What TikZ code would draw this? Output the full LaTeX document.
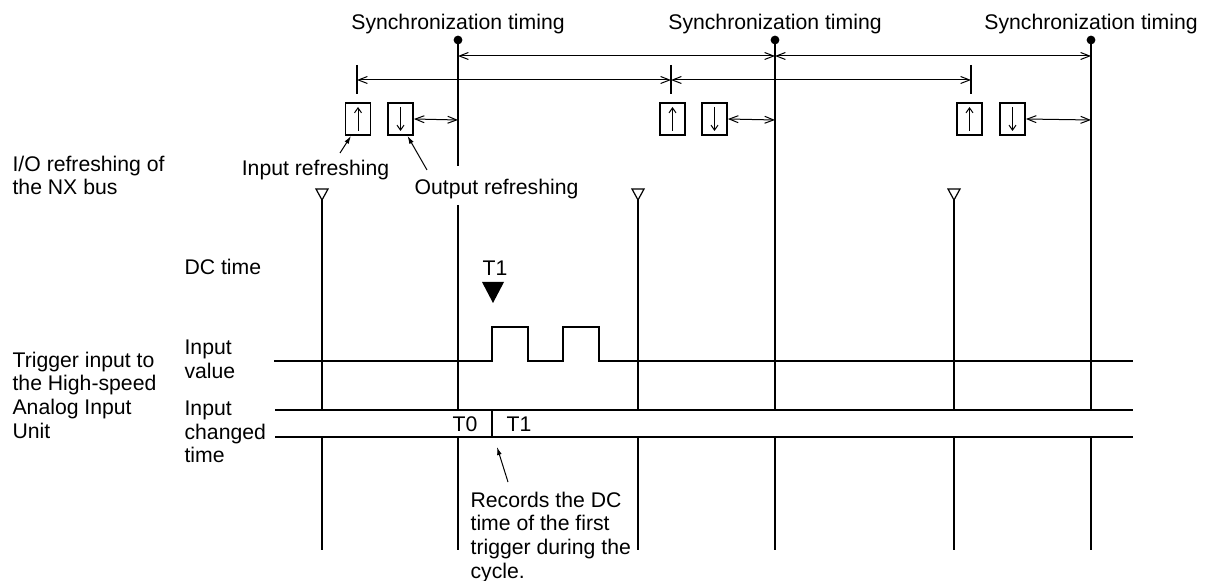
\documentclass[tikz,border=0pt]{standalone}
\usepackage{fontspec}
\setmainfont{Liberation Sans}
\usetikzlibrary{positioning, arrows.meta, calc}

\begin{document}
\begin{tikzpicture}[x=0.5pt,y=-0.5pt,line width=0.6pt,
        lbl/.style={inner sep=0pt, font=\fontsize{10.6}{11.8}\selectfont},
        lblblock/.style={lbl, align=left, anchor=north west},
        refbox/.style={draw, line width=0.9pt, minimum width=12.5pt, minimum height=16pt, inner sep=0pt},
        dimarr/.style={{Straight Barb[length=4.5pt,width=3.5pt]}-{Straight Barb[length=4.5pt,width=3.5pt]}, line width=0.5pt},
        boxarr/.style={-{Straight Barb[length=2.5pt,width=3.5pt]}, line width=0.5pt},
        pointer/.style={-{Latex[length=4pt,width=2.4pt]}, line width=0.5pt}]

        \useasboundingbox (0,0) rectangle (1214,581);

        % ==========================================
        % Row labels
        % ==========================================
        \node[lblblock] (iolbl) at (12,155.4) {I/O refreshing of\\the NX bus};
        \node[lblblock] (trglbl) at (12,351.4) {Trigger input to\\the High-speed\\Analog Input\\Unit};
        \node[lbl, anchor=base west] (dclbl) at (184,274.6) {DC time};
        \node[lblblock] (invallbl) at (184,339.4) {Input\\value};
        \node[lblblock] (inchglbl) at (184,400.4) {Input\\changed\\time};

        % ==========================================
        % Synchronization timing
        % ==========================================
        \foreach \n/\x in {1/458,2/775,3/1091} {
            \coordinate (s\n) at (\x,40);
            \fill (s\n) circle[radius=2.2pt];
            \node[lbl, above=2.5pt of s\n] (sync\n) {Synchronization timing};
            \coordinate (c\n) at (\x,56);
            \coordinate (d\n) at (\x,120);
        }
        \draw[dimarr] (c1) -- (c2);
        \draw[dimarr] (c2) -- (c3);

        % sync lines (the first one is broken by a label)
        \draw (s1) -- (458,166);
        \draw (458,205) -- (458,410);
        \draw (s2) -- (775,410);
        \draw (s3) -- (1091,410);
        \foreach \x in {458,775,1091}
            \draw (\x,437) -- (\x,550);

        % ==========================================
        % I/O refresh cycles
        % ==========================================
        \foreach \n/\t/\u/\d in {1/357/358/400.5,2/671/672.5/714.5,3/971/969.5/1012.5} {
            \coordinate (t\n) at (\t,80);
            \draw (\t,65) -- (\t,94);
            \node[refbox] (up\n) at (\u,119) {};
            \node[refbox] (down\n) at (\d,119) {};
            \draw[boxarr] ([yshift=-6pt]up\n.center) -- ([yshift=6pt]up\n.center);
            \draw[boxarr] ([yshift=6pt]down\n.center) -- ([yshift=-6pt]down\n.center);
            \draw[dimarr] (down\n.east) -- (d\n);
        }
        \draw[dimarr] (t1) -- (t2);
        \draw[dimarr] (t2) -- (t3);

        % input refresh markers
        \foreach \n/\x in {1/322,2/638,3/954} {
            \draw (\x-6,189) -- (\x+6,189) -- (\x,200) -- cycle;
            \coordinate (m\n) at (\x,200);
            \draw (m\n) -- (\x,410);
            \draw (\x,437) -- (\x,550);
        }

        % callouts
        \node[lbl, anchor=base] (inref) at (315.5,175.6) {Input refreshing};
        \node[lbl, anchor=base] (outref) at (496.5,194.6) {Output refreshing};
        \coordinate (intail) at (340,153);
        \coordinate (outtail) at (427,170);
        \draw[pointer] (intail) -- ([xshift=-3.5pt]up1.south);
        \draw[pointer] (outtail) -- ([xshift=3.5pt]down1.south);

        % ==========================================
        % DC time
        % ==========================================
        \node[lbl, anchor=base] (dct1) at (495,276) {T1};
        \fill (482,282) -- (504,282) -- (493,303) -- cycle;

        % ==========================================
        % Input value
        % ==========================================
        \draw (274,361) -- (492,361) -- (492,327) -- (528,327) -- (528,361)
            -- (563,361) -- (563,327) -- (599,327) -- (599,361) -- (1133,361);

        % ==========================================
        % Input changed time
        % ==========================================
        \draw (275,410) -- (1133,410);
        \draw[line width=1pt] (275,437) -- (1133,437);
        \coordinate (chg) at (492,437);
        \draw (492,410) -- (chg);
        \node[lbl, anchor=base] (t0lbl) at (465,432) {T0};
        \node[lbl, anchor=base] (t1lbl) at (519,432) {T1};

        \node[lblblock] (rec) at (470,491.4) {Records the DC\\time of the first\\trigger during the\\cycle.};
        \coordinate (rectail) at (508,482);
        \draw[pointer] (rectail) -- (497,447);

\end{tikzpicture}
\end{document}
